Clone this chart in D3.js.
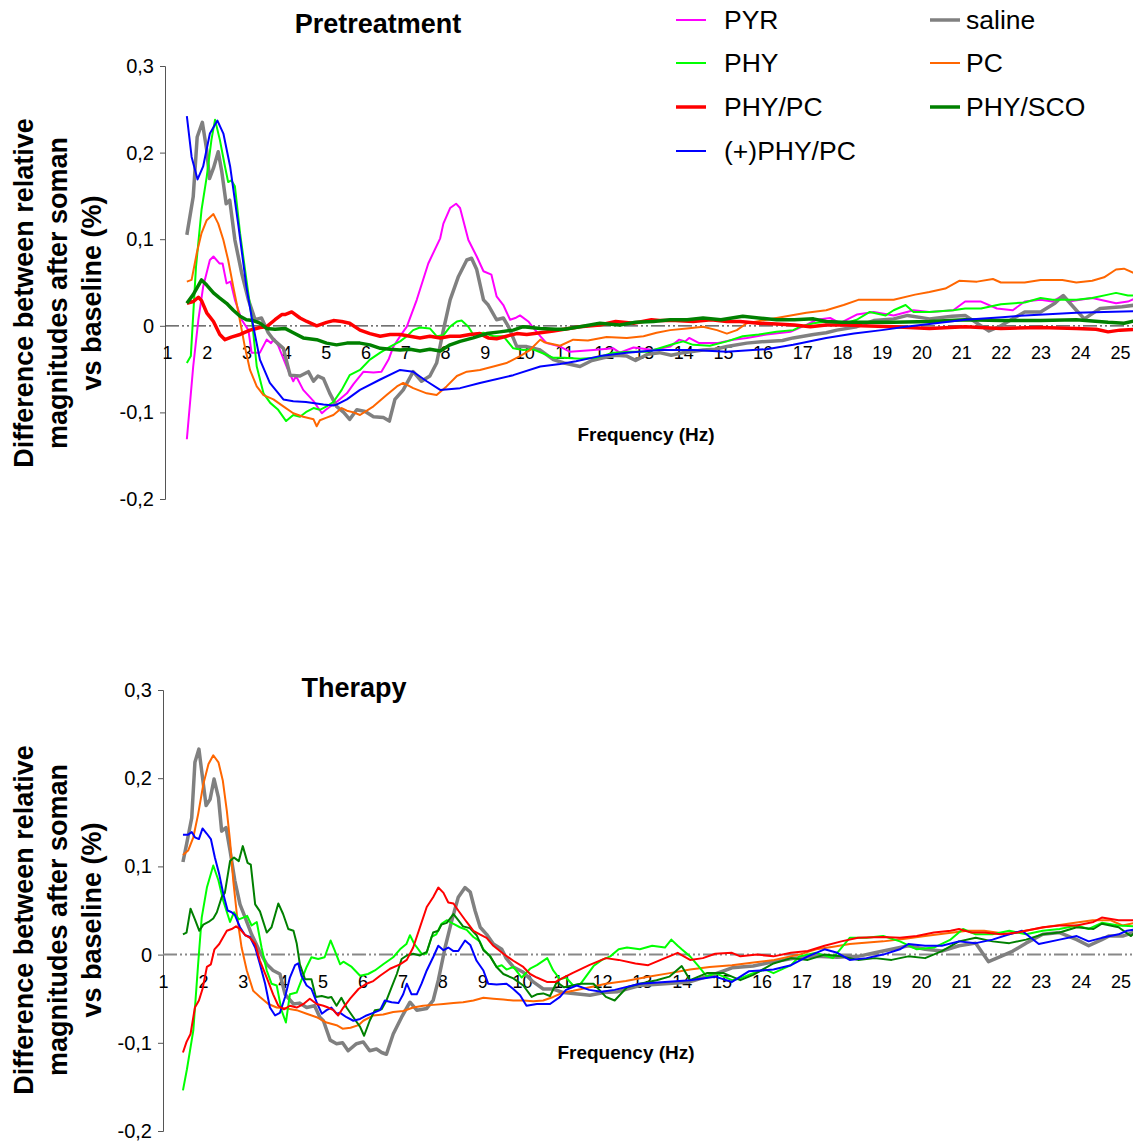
<!DOCTYPE html>
<html><head><meta charset="utf-8">
<script src="https://cdn.jsdelivr.net/npm/d3@7"></script>
<style>
body{margin:0;background:#fff}
svg{display:block;background:#fff}
text{font-family:"Liberation Sans",Arial,Helvetica,sans-serif;fill:#000}
</style>
</head><body>
<svg id="chart" width="1133" height="1145"></svg>
<script>
// ---------- DATA ----------
const freqTicks = [1,2,3,4,5,6,7,8,9,10,11,12,13,14,15,16,17,18,19,20,21,22,23,24,25];
const yTicks = [-0.2,-0.1,0,0.1,0.2,0.3];
const legendNames = ["PYR","saline","PHY","PC","PHY/PC","PHY/SCO","(+)PHY/PC"];

// Pretreatment panel: [frequency Hz, difference]
const pre_PYR = [[1.5,-0.131],[1.66,-0.047],[1.79,0.007],[1.91,0.045],[2.08,0.076],[2.17,0.080],[2.32,0.072],[2.4,0.072],[2.5,0.049],[2.6,0.051],[2.71,0.030],[2.88,0.007],[3.05,-0.005],[3.13,-0.031],[3.34,-0.031],[3.51,-0.016],[3.62,-0.020],[3.7,-0.015],[3.8,-0.023],[4.01,-0.047],[4.18,-0.064],[4.25,-0.058],[4.43,-0.074],[4.69,-0.087],[4.9,-0.101],[5.0,-0.097],[5.27,-0.088],[5.53,-0.078],[5.7,-0.067],[5.95,-0.053],[6.2,-0.054],[6.4,-0.053],[6.58,-0.039],[6.7,-0.024],[6.87,-0.012],[7.04,-0.001],[7.29,0.030],[7.58,0.072],[7.88,0.101],[7.96,0.118],[8.13,0.136],[8.28,0.141],[8.38,0.136],[8.59,0.099],[8.8,0.080],[8.97,0.063],[9.17,0.059],[9.3,0.034],[9.47,0.024],[9.64,0.007],[9.77,0.009],[9.89,0.012],[10.1,0.005],[10.2,-0.001],[10.4,-0.012],[10.56,-0.020],[10.9,-0.024],[11.15,-0.030],[11.74,-0.028],[12.24,-0.026],[12.4,-0.031],[12.75,-0.025],[13.25,-0.028],[13.67,-0.024],[13.9,-0.016],[14.05,-0.018],[14.15,-0.014],[14.4,-0.020],[14.85,-0.020],[15.26,-0.016],[15.6,-0.014],[16.1,-0.010],[16.7,-0.007],[17.1,0.001],[17.36,0.007],[17.7,0.009],[17.95,0.003],[18.37,0.013],[18.8,0.016],[19.3,0.012],[19.8,0.018],[20.2,0.016],[20.8,0.018],[21.1,0.028],[21.5,0.028],[21.9,0.020],[22.3,0.018],[22.6,0.028],[23.0,0.030],[23.3,0.028],[23.55,0.035],[23.7,0.028],[24.3,0.032],[24.9,0.026],[25.2,0.028],[25.4,0.032]];
const pre_saline = [[1.5,0.105],[1.66,0.149],[1.76,0.218],[1.89,0.235],[2.0,0.203],[2.07,0.170],[2.17,0.182],[2.29,0.201],[2.38,0.178],[2.49,0.141],[2.58,0.145],[2.71,0.099],[2.88,0.061],[3.05,0.030],[3.22,0.007],[3.38,0.009],[3.55,-0.008],[3.68,-0.016],[3.93,-0.026],[4.1,-0.057],[4.35,-0.058],[4.56,-0.053],[4.69,-0.064],[4.8,-0.058],[4.94,-0.061],[5.1,-0.078],[5.27,-0.093],[5.45,-0.100],[5.6,-0.108],[5.78,-0.097],[5.99,-0.099],[6.2,-0.105],[6.45,-0.106],[6.6,-0.110],[6.74,-0.085],[6.95,-0.074],[7.2,-0.053],[7.41,-0.064],[7.62,-0.058],[7.79,-0.043],[7.96,-0.005],[8.13,0.030],[8.34,0.057],[8.55,0.076],[8.67,0.078],[8.8,0.065],[8.97,0.030],[9.09,0.024],[9.3,0.007],[9.47,0.009],[9.6,-0.001],[9.81,-0.024],[10.06,-0.024],[10.4,-0.028],[10.73,-0.039],[11.0,-0.043],[11.4,-0.047],[11.7,-0.040],[11.99,-0.037],[12.3,-0.034],[12.58,-0.035],[12.8,-0.040],[13.1,-0.033],[13.4,-0.031],[13.7,-0.034],[14.0,-0.031],[14.5,-0.028],[14.8,-0.027],[15.1,-0.024],[15.6,-0.020],[16.1,-0.018],[16.5,-0.017],[16.77,-0.014],[17.28,-0.010],[17.6,-0.008],[17.87,-0.005],[18.37,-0.001],[18.8,0.006],[19.3,0.008],[19.65,0.012],[20.2,0.008],[20.77,0.011],[21.1,0.012],[21.7,-0.006],[22.0,0.0],[22.6,0.016],[23.0,0.016],[23.36,0.026],[23.57,0.035],[23.9,0.018],[24.1,0.008],[24.5,0.020],[25.05,0.022],[25.4,0.024]];
const pre_PHY = [[1.5,-0.043],[1.6,-0.035],[1.73,0.068],[1.87,0.134],[2.0,0.172],[2.12,0.215],[2.21,0.238],[2.33,0.215],[2.46,0.184],[2.54,0.166],[2.62,0.168],[2.71,0.161],[2.84,0.107],[3.0,0.053],[3.13,0.011],[3.26,-0.047],[3.43,-0.078],[3.6,-0.089],[3.8,-0.097],[4.0,-0.110],[4.18,-0.103],[4.35,-0.105],[4.52,-0.099],[4.69,-0.095],[4.85,-0.097],[5.02,-0.093],[5.19,-0.088],[5.4,-0.074],[5.6,-0.057],[5.86,-0.051],[6.11,-0.039],[6.37,-0.031],[6.62,-0.024],[6.87,-0.018],[7.04,-0.012],[7.2,-0.005],[7.37,-0.002],[7.62,-0.003],[7.79,-0.012],[7.96,-0.011],[8.13,-0.001],[8.3,0.005],[8.42,0.006],[8.59,-0.001],[8.71,-0.010],[8.97,-0.008],[9.22,-0.012],[9.47,-0.012],[9.72,-0.026],[9.97,-0.028],[10.2,-0.027],[10.48,-0.032],[10.73,-0.037],[11.0,-0.037],[11.4,-0.038],[11.8,-0.037],[12.24,-0.031],[12.66,-0.030],[13.1,-0.030],[13.4,-0.026],[13.75,-0.021],[14.0,-0.018],[14.25,-0.022],[14.67,-0.023],[15.1,-0.018],[15.5,-0.012],[15.9,-0.010],[16.35,-0.007],[16.77,-0.005],[16.95,-0.001],[17.28,0.003],[17.6,0.005],[18.1,0.003],[18.37,0.007],[18.7,0.016],[19.1,0.012],[19.3,0.018],[19.6,0.024],[19.8,0.016],[20.2,0.016],[20.8,0.018],[21.1,0.020],[21.5,0.020],[22.0,0.025],[22.6,0.027],[23.0,0.032],[23.3,0.030],[23.9,0.030],[24.3,0.032],[24.7,0.036],[24.9,0.038],[25.2,0.035],[25.4,0.035]];
const pre_PC = [[1.5,0.051],[1.62,0.053],[1.75,0.084],[1.87,0.107],[2.0,0.122],[2.17,0.129],[2.29,0.118],[2.42,0.099],[2.54,0.076],[2.67,0.045],[2.8,0.015],[2.96,-0.024],[3.09,-0.051],[3.26,-0.070],[3.43,-0.080],[3.68,-0.085],[3.93,-0.093],[4.18,-0.101],[4.43,-0.105],[4.69,-0.108],[4.77,-0.116],[4.85,-0.109],[5.02,-0.106],[5.19,-0.103],[5.4,-0.095],[5.53,-0.098],[5.7,-0.100],[5.86,-0.103],[6.2,-0.093],[6.53,-0.080],[6.79,-0.070],[6.95,-0.066],[7.2,-0.072],[7.54,-0.078],[7.79,-0.080],[8.04,-0.070],[8.3,-0.058],[8.55,-0.053],[8.88,-0.051],[9.22,-0.047],[9.55,-0.043],[9.89,-0.035],[10.14,-0.028],[10.4,-0.016],[10.5,-0.019],[10.9,-0.023],[11.23,-0.016],[11.6,-0.017],[12.07,-0.013],[12.58,-0.014],[13.0,-0.012],[13.33,-0.008],[13.67,-0.005],[14.09,-0.003],[14.5,-0.001],[14.85,-0.005],[15.1,-0.009],[15.35,-0.005],[15.6,0.003],[16.1,0.007],[16.6,0.011],[17.1,0.015],[17.6,0.018],[18.04,0.024],[18.41,0.030],[18.9,0.030],[19.3,0.030],[19.84,0.036],[20.2,0.039],[20.6,0.043],[20.95,0.052],[21.4,0.051],[21.8,0.054],[22.0,0.050],[22.6,0.050],[23.0,0.053],[23.55,0.053],[23.9,0.050],[24.3,0.052],[24.6,0.056],[24.9,0.065],[25.1,0.066],[25.4,0.060]];
const pre_PHY_PC = [[1.5,0.026],[1.66,0.028],[1.79,0.033],[1.87,0.029],[2.0,0.015],[2.17,0.005],[2.33,-0.010],[2.46,-0.016],[2.62,-0.013],[2.84,-0.010],[3.09,-0.005],[3.34,-0.002],[3.51,-0.001],[3.72,0.007],[3.89,0.013],[3.97,0.013],[4.14,0.016],[4.35,0.009],[4.52,0.005],[4.77,0.000],[5.02,0.004],[5.19,0.006],[5.4,0.005],[5.6,0.003],[5.86,-0.005],[6.11,-0.009],[6.37,-0.012],[6.62,-0.010],[6.87,-0.010],[7.12,-0.012],[7.37,-0.014],[7.62,-0.012],[7.88,-0.014],[8.13,-0.012],[8.38,-0.012],[8.63,-0.010],[8.88,-0.009],[9.09,-0.014],[9.3,-0.015],[9.55,-0.012],[9.81,-0.009],[10.06,-0.010],[10.4,-0.008],[10.73,-0.006],[11.0,-0.004],[11.4,-0.001],[11.9,0.001],[12.3,0.005],[12.75,0.003],[13.2,0.007],[13.4,0.006],[13.8,0.006],[14.25,0.005],[14.7,0.007],[15.1,0.005],[15.43,0.005],[15.9,0.003],[16.35,0.002],[16.8,0.001],[17.2,-0.001],[17.6,0.001],[18.1,0.001],[18.5,0.0],[19.3,-0.001],[20.2,-0.003],[21.1,-0.001],[22.0,-0.003],[23.0,-0.002],[23.9,-0.003],[24.4,-0.004],[24.7,-0.007],[25.0,-0.005],[25.4,-0.004]];
const pre_PHY_SCO = [[1.5,0.026],[1.66,0.036],[1.87,0.053],[2.0,0.047],[2.17,0.038],[2.33,0.032],[2.5,0.026],[2.67,0.018],[2.84,0.011],[3.0,0.007],[3.17,0.006],[3.34,0.003],[3.51,-0.003],[3.72,-0.004],[3.97,-0.003],[4.18,-0.008],[4.43,-0.014],[4.77,-0.016],[5.02,-0.020],[5.27,-0.022],[5.53,-0.020],[5.86,-0.020],[6.11,-0.022],[6.37,-0.026],[6.62,-0.027],[6.87,-0.028],[7.12,-0.027],[7.37,-0.029],[7.62,-0.027],[7.88,-0.029],[8.13,-0.022],[8.38,-0.018],[8.71,-0.014],[9.05,-0.009],[9.38,-0.007],[9.72,-0.005],[9.97,-0.001],[10.4,-0.003],[10.8,-0.004],[11.0,-0.004],[11.4,-0.001],[11.9,0.003],[12.4,0.001],[12.8,0.004],[13.25,0.005],[13.67,0.007],[14.1,0.007],[14.5,0.009],[14.95,0.007],[15.5,0.011],[15.9,0.009],[16.35,0.007],[16.8,0.007],[17.28,0.008],[17.6,0.005],[18.0,0.004],[18.4,0.004],[19.3,0.004],[20.2,0.005],[21.1,0.007],[22.0,0.006],[23.0,0.006],[23.9,0.007],[24.7,0.004],[25.1,0.003],[25.4,0.006]];
const pre_pPHY_PC = [[1.5,0.242],[1.62,0.195],[1.77,0.169],[1.91,0.184],[2.08,0.222],[2.27,0.237],[2.42,0.222],[2.59,0.184],[2.8,0.115],[3.0,0.045],[3.17,0.0],[3.34,-0.039],[3.59,-0.066],[3.93,-0.085],[4.18,-0.087],[4.5,-0.088],[4.94,-0.091],[5.19,-0.092],[5.27,-0.091],[5.53,-0.085],[5.86,-0.074],[6.37,-0.062],[6.87,-0.051],[7.2,-0.053],[7.54,-0.064],[7.88,-0.074],[8.38,-0.072],[8.88,-0.066],[9.72,-0.057],[10.4,-0.047],[10.9,-0.044],[11.3,-0.041],[11.9,-0.035],[12.58,-0.031],[13.4,-0.028],[14.25,-0.028],[15.1,-0.030],[16.1,-0.027],[16.77,-0.022],[17.6,-0.014],[18.3,-0.009],[19.0,-0.005],[19.6,-0.001],[20.2,0.002],[21.1,0.007],[22.03,0.010],[22.6,0.012],[23.9,0.015],[24.6,0.016],[25.4,0.017]];

// Therapy panel
const ther_saline = [[1.5,0.105],[1.59,0.125],[1.72,0.155],[1.8,0.218],[1.9,0.233],[1.97,0.208],[2.08,0.169],[2.18,0.176],[2.28,0.199],[2.39,0.178],[2.47,0.140],[2.58,0.144],[2.68,0.118],[2.8,0.084],[2.93,0.057],[3.06,0.042],[3.22,0.023],[3.43,0.003],[3.6,-0.011],[3.76,-0.018],[3.93,-0.022],[4.06,-0.045],[4.27,-0.056],[4.42,-0.055],[4.6,-0.060],[4.8,-0.058],[4.93,-0.071],[5.02,-0.075],[5.19,-0.097],[5.35,-0.101],[5.5,-0.100],[5.64,-0.109],[5.85,-0.101],[6.02,-0.099],[6.18,-0.109],[6.35,-0.107],[6.48,-0.111],[6.6,-0.113],[6.77,-0.090],[6.98,-0.071],[7.19,-0.054],[7.36,-0.063],[7.61,-0.061],[7.77,-0.052],[7.9,-0.029],[8.07,0.008],[8.24,0.039],[8.4,0.065],[8.57,0.076],[8.7,0.071],[8.82,0.050],[8.95,0.031],[9.11,0.023],[9.28,0.012],[9.49,0.006],[9.6,-0.004],[9.78,-0.014],[10.03,-0.020],[10.28,-0.031],[10.53,-0.039],[10.78,-0.039],[11.03,-0.043],[11.28,-0.044],[11.7,-0.046],[12.05,-0.043],[12.4,-0.042],[12.95,-0.035],[13.58,-0.033],[14.2,-0.031],[14.84,-0.022],[15.26,-0.015],[15.79,-0.013],[16.3,-0.008],[16.84,-0.004],[17.36,-0.002],[17.9,-0.003],[18.42,-0.002],[18.84,0.002],[19.26,0.006],[19.68,0.010],[20.1,0.006],[20.52,0.004],[20.95,0.010],[21.37,0.013],[21.69,-0.008],[22.0,-0.002],[22.3,0.004],[22.63,0.013],[23.05,0.023],[23.47,0.025],[23.9,0.017],[24.2,0.010],[24.53,0.017],[24.7,0.021],[25.05,0.021],[25.45,0.027]];
const ther_PHY = [[1.5,-0.154],[1.6,-0.13],[1.76,-0.086],[1.88,-0.011],[1.97,0.042],[2.1,0.076],[2.26,0.101],[2.39,0.084],[2.51,0.061],[2.68,0.037],[2.78,0.048],[2.9,0.040],[3.01,0.042],[3.11,0.044],[3.22,0.033],[3.35,0.037],[3.47,0.008],[3.6,-0.018],[3.72,-0.033],[3.85,-0.035],[3.97,-0.063],[4.08,-0.077],[4.18,-0.045],[4.35,-0.043],[4.47,-0.029],[4.6,-0.014],[4.72,-0.003],[4.89,-0.005],[5.05,-0.003],[5.2,0.016],[5.3,0.005],[5.44,-0.011],[5.52,-0.008],[5.73,-0.014],[5.94,-0.024],[6.14,-0.022],[6.31,-0.018],[6.52,-0.011],[6.77,-0.003],[6.94,0.006],[7.1,0.012],[7.19,0.022],[7.3,0.012],[7.48,0.001],[7.6,0.001],[7.73,0.020],[7.85,0.023],[7.98,0.035],[8.11,0.039],[8.27,0.035],[8.44,0.031],[8.61,0.028],[8.78,0.020],[8.94,0.015],[9.03,0.006],[9.2,-0.002],[9.36,-0.014],[9.49,-0.012],[9.61,-0.017],[9.78,-0.014],[9.99,-0.026],[10.2,-0.016],[10.37,-0.012],[10.63,-0.004],[10.78,-0.018],[10.95,-0.028],[11.1,-0.026],[11.28,-0.035],[11.47,-0.033],[11.79,-0.013],[12.0,-0.006],[12.21,-0.002],[12.42,0.006],[12.63,0.008],[12.95,0.006],[13.26,0.010],[13.58,0.008],[13.74,0.017],[13.9,0.010],[14.0,0.006],[14.21,-0.002],[14.42,-0.013],[14.63,-0.025],[14.84,-0.021],[15.26,-0.029],[15.47,-0.027],[15.79,-0.021],[16.1,-0.017],[16.3,-0.021],[16.74,-0.012],[16.95,-0.002],[17.37,0.002],[17.79,-0.004],[18.21,0.019],[18.63,0.019],[19.05,0.021],[19.47,0.015],[19.89,0.006],[20.32,0.008],[20.74,0.017],[21.05,0.029],[21.37,0.023],[21.79,0.023],[22.21,0.027],[22.63,0.023],[23.05,0.027],[23.47,0.029],[23.9,0.033],[24.2,0.029],[24.53,0.036],[24.95,0.033],[25.37,0.032]];
const ther_PC = [[1.5,0.113],[1.63,0.118],[1.76,0.133],[1.88,0.159],[2.01,0.193],[2.14,0.216],[2.26,0.226],[2.39,0.218],[2.5,0.197],[2.6,0.163],[2.68,0.129],[2.76,0.084],[2.86,0.042],[2.97,0.008],[3.1,-0.018],[3.26,-0.041],[3.43,-0.048],[3.64,-0.056],[3.85,-0.060],[4.1,-0.061],[4.35,-0.063],[4.6,-0.067],[4.85,-0.071],[5.1,-0.077],[5.35,-0.080],[5.5,-0.084],[5.7,-0.083],[5.9,-0.080],[6.02,-0.075],[6.27,-0.069],[6.52,-0.068],[6.77,-0.065],[7.02,-0.064],[7.27,-0.060],[7.52,-0.058],[7.77,-0.057],[8.03,-0.056],[8.28,-0.055],[8.52,-0.054],[8.78,-0.052],[9.03,-0.049],[9.28,-0.050],[9.53,-0.051],[9.78,-0.052],[10.03,-0.052],[10.28,-0.053],[10.53,-0.052],[10.78,-0.048],[11.03,-0.043],[11.28,-0.041],[11.7,-0.037],[12.1,-0.033],[12.6,-0.030],[13.16,-0.025],[13.7,-0.021],[14.21,-0.017],[14.7,-0.014],[15.26,-0.012],[15.8,-0.009],[16.32,-0.006],[16.95,0.0],[17.37,0.006],[17.8,0.009],[18.21,0.012],[19.05,0.015],[19.6,0.018],[20.1,0.021],[20.6,0.024],[21.16,0.027],[21.58,0.027],[22.2,0.023],[22.6,0.027],[23.1,0.031],[23.68,0.035],[24.3,0.039],[24.74,0.039],[25.05,0.033],[25.45,0.037]];
const ther_PHY_PC = [[1.5,-0.111],[1.59,-0.099],[1.69,-0.090],[1.8,-0.060],[1.9,-0.052],[1.99,-0.039],[2.1,-0.014],[2.2,-0.011],[2.29,0.006],[2.41,0.012],[2.51,0.020],[2.6,0.027],[2.72,0.029],[2.83,0.032],[2.93,0.029],[3.06,0.022],[3.18,0.019],[3.31,0.012],[3.43,-0.007],[3.6,-0.026],[3.76,-0.045],[3.89,-0.058],[4.03,-0.062],[4.18,-0.058],[4.35,-0.060],[4.52,-0.056],[4.68,-0.050],[4.85,-0.056],[5.02,-0.058],[5.14,-0.060],[5.27,-0.063],[5.39,-0.069],[5.52,-0.060],[5.69,-0.050],[5.9,-0.039],[6.1,-0.033],[6.27,-0.030],[6.44,-0.024],[6.69,-0.016],[6.94,-0.011],[7.11,-0.006],[7.27,0.008],[7.44,0.031],[7.61,0.054],[7.77,0.065],[7.9,0.076],[8.03,0.070],[8.15,0.059],[8.28,0.058],[8.4,0.050],[8.61,0.037],[8.78,0.027],[8.94,0.023],[9.11,0.019],[9.28,0.010],[9.53,0.001],[9.78,-0.007],[10.03,-0.014],[10.2,-0.022],[10.37,-0.026],[10.62,-0.031],[10.84,-0.031],[11.0,-0.027],[11.26,-0.021],[11.68,-0.012],[12.1,-0.004],[12.42,-0.006],[12.84,-0.010],[13.16,-0.012],[13.58,-0.004],[13.9,0.002],[14.21,-0.006],[14.53,-0.004],[14.84,0.001],[15.26,0.002],[15.47,-0.002],[15.89,0.0],[16.3,-0.002],[16.74,0.002],[17.16,0.004],[17.58,0.010],[18.0,0.015],[18.42,0.019],[19.05,0.020],[19.47,0.019],[19.89,0.021],[20.32,0.025],[20.74,0.027],[20.95,0.029],[21.26,0.025],[21.58,0.025],[22.0,0.023],[22.42,0.025],[22.63,0.027],[23.05,0.031],[23.47,0.033],[23.9,0.033],[24.32,0.037],[24.53,0.042],[24.95,0.039],[25.37,0.039]];
const ther_PHY_SCO = [[1.5,0.023],[1.59,0.025],[1.69,0.052],[1.8,0.040],[1.91,0.027],[2.01,0.034],[2.14,0.037],[2.26,0.041],[2.35,0.048],[2.47,0.065],[2.55,0.070],[2.68,0.106],[2.78,0.110],[2.9,0.106],[3.0,0.123],[3.12,0.104],[3.2,0.102],[3.31,0.057],[3.43,0.049],[3.6,0.025],[3.72,0.031],[3.89,0.058],[4.01,0.046],[4.14,0.029],[4.27,0.027],[4.35,0.013],[4.43,-0.011],[4.56,-0.028],[4.72,-0.028],[4.83,-0.048],[4.98,-0.047],[5.14,-0.049],[5.22,-0.048],[5.35,-0.058],[5.47,-0.049],[5.6,-0.060],[5.77,-0.071],[5.94,-0.082],[6.04,-0.092],[6.18,-0.075],[6.31,-0.063],[6.48,-0.062],[6.6,-0.052],[6.73,-0.037],[6.86,-0.022],[6.98,-0.005],[7.11,-0.001],[7.27,0.001],[7.44,-0.001],[7.61,0.003],[7.77,0.025],[7.9,0.027],[7.98,0.034],[8.11,0.036],[8.28,0.046],[8.4,0.039],[8.52,0.032],[8.69,0.030],[8.86,0.022],[9.03,0.005],[9.2,-0.002],[9.36,-0.014],[9.53,-0.022],[9.78,-0.027],[10.03,-0.035],[10.24,-0.048],[10.37,-0.045],[10.53,-0.044],[10.7,-0.047],[10.87,-0.031],[11.05,-0.037],[11.47,-0.033],[11.79,-0.033],[12.1,-0.048],[12.32,-0.052],[12.63,-0.037],[12.95,-0.033],[13.37,-0.029],[13.69,-0.025],[14.0,-0.013],[14.21,-0.029],[14.63,-0.021],[15.05,-0.021],[15.47,-0.029],[15.79,-0.023],[16.3,-0.010],[16.74,-0.004],[17.16,-0.006],[17.58,0.0],[18.0,-0.002],[18.42,-0.006],[18.84,-0.004],[19.26,-0.006],[19.68,-0.002],[20.1,-0.004],[20.52,0.004],[20.95,0.015],[21.37,0.019],[21.79,0.015],[22.21,0.013],[22.63,0.017],[23.05,0.023],[23.47,0.025],[23.9,0.031],[24.32,0.029],[24.53,0.035],[24.95,0.031],[25.26,0.021],[25.45,0.029]];
const ther_pPHY_PC = [[1.5,0.136],[1.63,0.136],[1.72,0.139],[1.8,0.133],[1.9,0.131],[1.99,0.143],[2.1,0.137],[2.2,0.131],[2.3,0.110],[2.41,0.091],[2.51,0.069],[2.62,0.050],[2.72,0.048],[2.8,0.045],[2.93,0.031],[3.06,0.022],[3.18,0.020],[3.31,0.008],[3.43,-0.011],[3.56,-0.033],[3.68,-0.060],[3.81,-0.069],[3.93,-0.066],[4.06,-0.048],[4.18,-0.026],[4.31,-0.012],[4.39,-0.010],[4.47,-0.024],[4.6,-0.035],[4.72,-0.039],[4.85,-0.054],[4.98,-0.067],[5.1,-0.063],[5.22,-0.060],[5.35,-0.067],[5.44,-0.066],[5.6,-0.071],[5.77,-0.075],[5.94,-0.073],[6.1,-0.069],[6.27,-0.066],[6.44,-0.063],[6.56,-0.052],[6.73,-0.054],[6.9,-0.055],[7.02,-0.045],[7.11,-0.033],[7.23,-0.045],[7.36,-0.045],[7.48,-0.033],[7.61,-0.018],[7.77,-0.003],[7.9,0.010],[8.03,0.005],[8.15,0.008],[8.28,0.004],[8.4,0.004],[8.57,0.016],[8.7,0.011],[8.86,-0.007],[9.03,-0.018],[9.15,-0.033],[9.36,-0.034],[9.61,-0.033],[9.78,-0.039],[9.95,-0.046],[10.11,-0.058],[10.37,-0.056],[10.7,-0.056],[10.95,-0.048],[11.1,-0.040],[11.37,-0.035],[11.68,-0.040],[11.99,-0.042],[12.32,-0.040],[12.95,-0.033],[13.58,-0.031],[14.21,-0.029],[14.84,-0.025],[15.26,-0.031],[15.68,-0.019],[16.3,-0.017],[16.74,-0.012],[17.16,-0.002],[17.58,0.006],[17.9,0.002],[18.21,-0.006],[18.63,-0.004],[19.05,0.0],[19.47,0.006],[19.68,0.012],[20.1,0.010],[20.52,0.010],[20.95,0.015],[21.37,0.013],[21.79,0.017],[22.21,0.023],[22.53,0.027],[22.95,0.012],[23.47,0.017],[23.9,0.021],[24.2,0.015],[24.53,0.019],[24.95,0.023],[25.16,0.027],[25.45,0.029]];

// ---------- STYLE ----------
const colors = {"PYR":"#ff00ff","saline":"#808080","PHY":"#00ff00","PC":"#ff6600","PHY/PC":"#ff0000","PHY/SCO":"#008000","(+)PHY/PC":"#0000ff"};
const FONT = '"Liberation Sans", Arial, Helvetica, sans-serif';

const svg = d3.select("#chart");
svg.append("rect").attr("width",1133).attr("height",1145).attr("fill","#fff");

const panels = [
  { title:"Pretreatment", titleX:378, titleY:33,
    xRange:[167,1120], yRange:[499,66], axisX:165,
    freqX:646, freqY:441, yTitleCY:293, labelPad:20,
    zeroColor:"#444", zeroW:1.3,
    series:[["PYR",pre_PYR,2],["saline",pre_saline,3.5],["PHY",pre_PHY,2],["PC",pre_PC,2],["PHY/PC",pre_PHY_PC,3.5],["PHY/SCO",pre_PHY_SCO,3.5],["(+)PHY/PC",pre_pPHY_PC,2]] },
  { title:"Therapy", titleX:354, titleY:697,
    xRange:[163,1120.6], yRange:[1131,690], axisX:163,
    freqX:626, freqY:1059, yTitleCY:920, labelPad:21,
    zeroColor:"#888", zeroW:2,
    series:[["saline",ther_saline,3.5],["PC",ther_PC,2],["PHY",ther_PHY,2],["PHY/SCO",ther_PHY_SCO,2],["(+)PHY/PC",ther_pPHY_PC,2],["PHY/PC",ther_PHY_PC,2]] }
];

const fmt = d => { const r = Math.round(d*10)/10; return r===0 ? "0" : String(r).replace(".", ","); };

panels.forEach(p => {
  const x = d3.scaleLinear().domain([1,25]).range(p.xRange);
  const y = d3.scaleLinear().domain([-0.2,0.3]).range(p.yRange);
  const g = svg.append("g");

  // y axis
  const ya = g.append("g").attr("transform",`translate(${p.axisX},0)`)
    .call(d3.axisLeft(y).tickValues(yTicks).tickSize(5).tickPadding(6).tickFormat(fmt));
  ya.select(".domain").attr("stroke","#555").attr("stroke-width",1);
  ya.selectAll(".tick line").attr("stroke","#555");
  ya.selectAll("text").attr("font-family",FONT).attr("font-size",20).attr("fill","#000");

  // zero reference line
  g.append("line")
    .attr("x1",p.axisX).attr("x2",1133).attr("y1",y(0)).attr("y2",y(0))
    .attr("stroke",p.zeroColor).attr("stroke-width",p.zeroW)
    .attr("stroke-dasharray","14,3,2,3,2,3");

  // x category labels along zero line
  const xa = g.append("g").attr("transform",`translate(0,${y(0)})`)
    .call(d3.axisBottom(x).tickValues(freqTicks).tickSize(0).tickPadding(p.labelPad).tickFormat(d=>String(d)));
  xa.select(".domain").remove();
  xa.selectAll("text").attr("font-family",FONT).attr("font-size",18).attr("fill","#000");

  // series lines
  const line = d3.line().x(d=>x(d[0])).y(d=>y(d[1]));
  p.series.forEach(([name,data,w]) => {
    g.append("path").datum(data).attr("d",line)
      .attr("fill","none").attr("stroke",colors[name]).attr("stroke-width",w)
      .attr("stroke-linejoin","round").attr("stroke-linecap","butt");
  });

  // title
  g.append("text").attr("x",p.titleX).attr("y",p.titleY).attr("text-anchor","middle")
    .attr("font-family",FONT).attr("font-weight","bold").attr("font-size",27).text(p.title);

  // x title
  g.append("text").attr("x",p.freqX).attr("y",p.freqY).attr("text-anchor","middle")
    .attr("font-family",FONT).attr("font-weight","bold").attr("font-size",19).text("Frequency (Hz)");

  // y title
  const yLines = ["Difference between relative","magnitudes after soman","vs baseline (%)"];
  const yt = g.append("text").attr("transform",`translate(0,${p.yTitleCY}) rotate(-90)`)
    .attr("text-anchor","middle").attr("font-family",FONT).attr("font-weight","bold").attr("font-size",27);
  yLines.forEach((t,i) => yt.append("tspan").attr("x",0).attr("y",33+i*34).text(t));
});

// legend
const legendPos = {
  "PYR":[676,20],"PHY":[676,63],"PHY/PC":[676,107],"(+)PHY/PC":[676,151],
  "saline":[930,20],"PC":[930,63],"PHY/SCO":[930,107]
};
const legendW = {"PYR":2,"PHY":2,"PC":2,"(+)PHY/PC":2,"saline":3.5,"PHY/PC":3.5,"PHY/SCO":3.5};
const lg = svg.append("g");
legendNames.forEach(n => {
  const [lx,ly] = legendPos[n];
  lg.append("line").attr("x1",lx).attr("x2",lx+30).attr("y1",ly).attr("y2",ly)
    .attr("stroke",colors[n]).attr("stroke-width",legendW[n]);
  lg.append("text").attr("x",lx + (lx<900?48:36)).attr("y",ly+9)
    .attr("font-family",FONT).attr("font-size",26.5).text(n);
});
</script>
</body></html>
